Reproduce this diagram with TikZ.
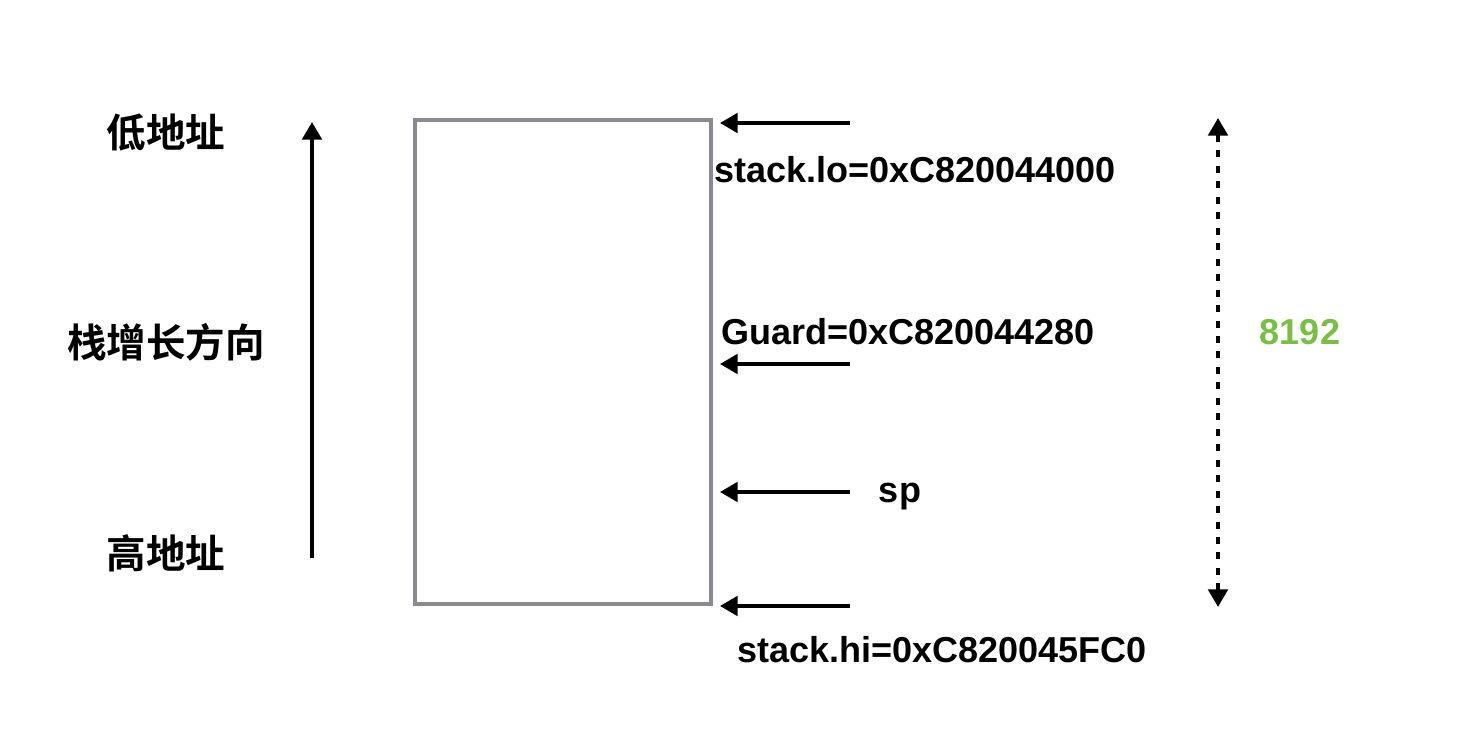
\documentclass[tikz,border=0pt]{standalone}
\usepackage{fontspec}
\setmainfont{Liberation Sans}
\newfontfamily\cjk{Noto Sans CJK SC}[BoldFont={Noto Sans CJK SC Bold}]
\usetikzlibrary{arrows.meta,positioning}
\definecolor{sizegreen}{RGB}{122,190,72}
\definecolor{boxgray}{RGB}{138,138,144}
\tikzset{
    ptr/.style={line width=2.2pt,-{Triangle[length=10pt,width=11pt]}},
    addr/.style={font=\fontsize{20.5}{24}\selectfont\bfseries},
    zh/.style={font=\cjk\fontsize{22.5}{26}\selectfont\bfseries}
}

\begin{document}
\begin{tikzpicture}[x=0.02cm,y=0.02cm]
        \useasboundingbox (0,0) rectangle (1458,748);
        \begin{scope}[every node/.style={zh}]
            \node (low)  at (166,615) {低地址};
            \node (grow) at (166,406) {栈增长方向};
            \node (high) at (166,195) {高地址};
        \end{scope}
        \coordinate (gbot) at (312,190);
        \coordinate (gtop) at (312,626);
        \draw[ptr] (gbot) -- (gtop);

        \node[draw=boxgray,line width=2pt,minimum width=5.92cm,minimum height=9.68cm] (stk) at (563,386) {};

        \begin{scope}[every node/.style={addr}]
            \node (lo)    at (915,578) {stack.lo=0xC820044000};
            \node (guard) at (908,416) {Guard=0xC820044280};
            \node (sp)    at (900,251) {sp};
            \node (hi)    at (942,98)  {stack.hi=0xC820045FC0};
        \end{scope}
        \foreach \n/\y in {lo/625,guard/384,sp/256,hi/142} {
            \coordinate (\n t) at (850,\y);
            \coordinate (\n h) at (720,\y);
            \draw[ptr] (\n t) -- (\n h);
        }

        \coordinate (szb) at (1218,141);
        \coordinate (szt) at (1218,630);
        \draw[line width=2.2pt,dash pattern=on 4pt off 4.8pt,{Triangle[length=10pt,width=11pt]}-{Triangle[length=10pt,width=11pt]}] (szb) -- (szt);
        \node[addr,text=sizegreen] (size) at (1300,416) {8192};
    \end{tikzpicture}
\end{document}
